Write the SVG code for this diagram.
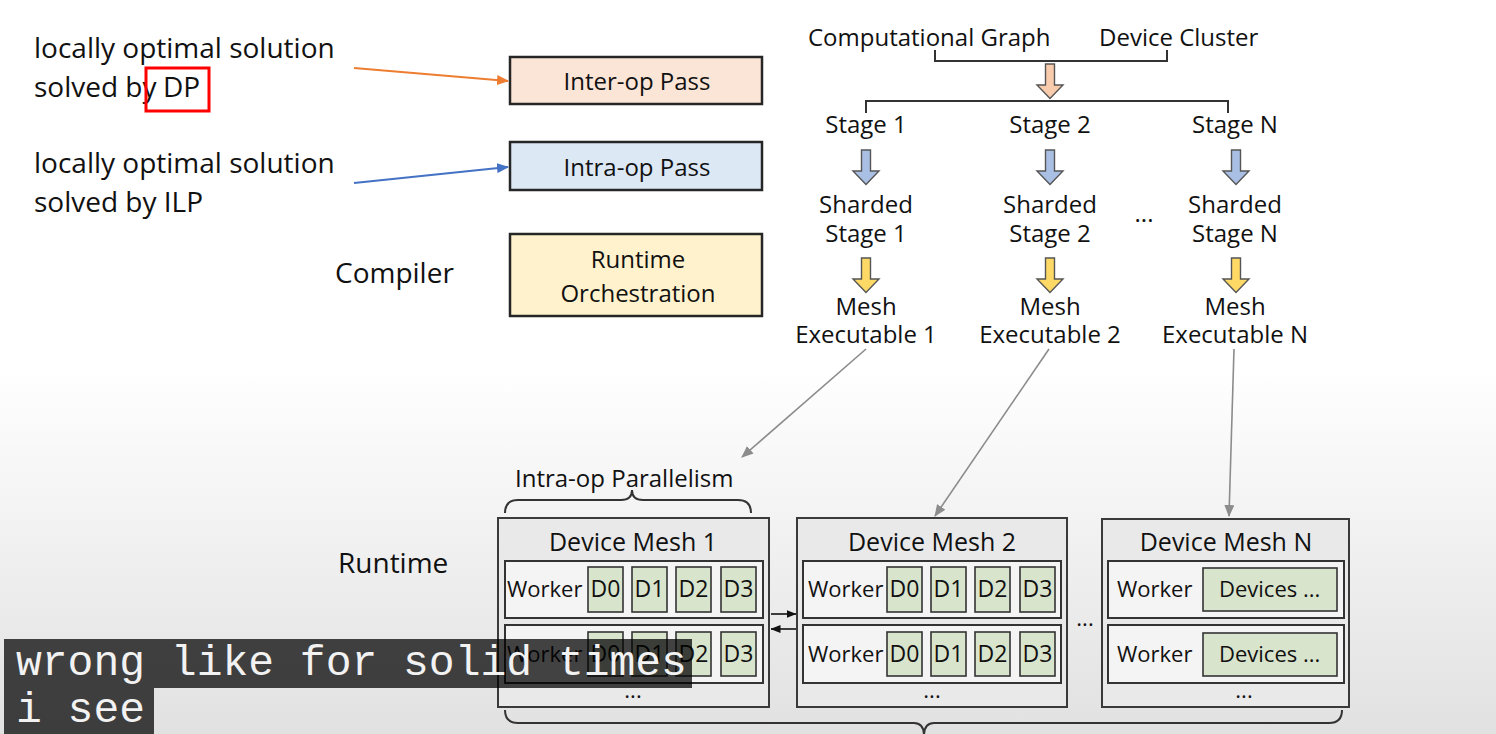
<svg xmlns="http://www.w3.org/2000/svg" xmlns:xlink="http://www.w3.org/1999/xlink" width="1496" height="734" viewBox="0 0 1496 734">
<style>
text{font-family:"Open Sans","Noto Sans","Liberation Sans",sans-serif;fill:#111}
.l28{font-size:28px}
.t24{font-size:24px}
.t25{font-size:25px}
.mid{text-anchor:middle}
.w22{font-size:22px}
.d23{font-size:23px;text-anchor:middle}
.box{stroke:#262626;stroke-width:2.5}
.mesh{fill:#e9e9e9;stroke:#3a3a3a;stroke-width:2}
.row{fill:#f4f4f4;stroke:#333;stroke-width:2}
.dev{fill:#d9e4cd;stroke:#333;stroke-width:1.6}
.br{fill:none;stroke:#333;stroke-width:2}
.gray{stroke:#8c8c8c;stroke-width:1.6;fill:none}
.blk{stroke:#555;stroke-width:1.4}
.sub{font-family:"Liberation Mono","DejaVu Sans Mono",monospace;font-size:43px;fill:#f2f2f2}
</style>
<defs>
<linearGradient id="bg" x1="0" y1="0" x2="0" y2="1">
<stop offset="0" stop-color="#ffffff"/>
<stop offset="0.5" stop-color="#ffffff"/>
<stop offset="1" stop-color="#e1e1e1"/>
</linearGradient>
<path id="blk" d="M-4.5,0 H4.5 V21 H13 L0,34.5 L-13,21 H-4.5 Z"/>
<marker id="mg" viewBox="0 0 12 10" refX="11" refY="5" markerWidth="12" markerHeight="10" markerUnits="userSpaceOnUse" orient="auto">
<path d="M0,0 L12,5 L0,10 Z" fill="#8c8c8c"/>
</marker>
<marker id="mo" viewBox="0 0 12 10" refX="11" refY="5" markerWidth="12" markerHeight="10" markerUnits="userSpaceOnUse" orient="auto">
<path d="M0,0 L12,5 L0,10 Z" fill="#ed7d31"/>
</marker>
<marker id="mb" viewBox="0 0 12 10" refX="11" refY="5" markerWidth="12" markerHeight="10" markerUnits="userSpaceOnUse" orient="auto">
<path d="M0,0 L12,5 L0,10 Z" fill="#4472c4"/>
</marker>
<marker id="mk" viewBox="0 0 10 8" refX="9.5" refY="4" markerWidth="10" markerHeight="8" markerUnits="userSpaceOnUse" orient="auto">
<path d="M0,0 L10,4 L0,8 Z" fill="#111"/>
</marker>
</defs>
<rect x="0" y="0" width="1496" height="734" fill="url(#bg)"/>

<g id="notes">
<text class="l28" x="34" y="58">locally optimal solution</text>
<text class="l28" x="34" y="97">solved by <tspan x="163">DP</tspan></text>
<rect x="146" y="68" width="63" height="43" fill="none" stroke="#ff0000" stroke-width="3"/>
<text class="l28" x="34" y="173">locally optimal solution</text>
<text class="l28" x="34" y="212">solved by ILP</text>
<text class="l28" x="335" y="283">Compiler</text>
<text class="l28" x="338" y="573">Runtime</text>
</g>

<g id="inter-op-pass">
<rect class="box" x="510" y="57" width="252" height="47" fill="#fbe5d6"/>
<text class="t24 mid" x="637" y="90">Inter-op Pass</text>
</g>
<g id="intra-op-pass">
<rect class="box" x="510" y="142" width="252" height="48" fill="#dde8f5"/>
<text class="t24 mid" x="637" y="176">Intra-op Pass</text>
</g>
<g id="runtime-orchestration">
<rect class="box" x="510" y="234" width="252" height="82" fill="#fff2cc"/>
<text class="t24 mid" x="638" y="268">Runtime</text>
<text class="t24 mid" x="638" y="302">Orchestration</text>
</g>

<g id="inputs">
<text class="t24" x="808" y="46">Computational Graph</text>
<text class="t24" x="1099" y="46">Device Cluster</text>
</g>

<g id="stage-1">
<text class="t24 mid" x="866" y="133">Stage 1</text>
<text class="t24 mid" x="866" y="213">Sharded</text>
<text class="t24 mid" x="866" y="242">Stage 1</text>
<text class="t24 mid" x="866" y="315">Mesh</text>
<text class="t24 mid" x="866" y="343">Executable 1</text>
</g>
<g id="stage-2">
<text class="t24 mid" x="1050" y="133">Stage 2</text>
<text class="t24 mid" x="1050" y="213">Sharded</text>
<text class="t24 mid" x="1050" y="242">Stage 2</text>
<text class="t24 mid" x="1050" y="315">Mesh</text>
<text class="t24 mid" x="1050" y="343">Executable 2</text>
</g>
<text class="t24 mid" x="1144" y="222">...</text>
<g id="stage-n">
<text class="t24 mid" x="1235" y="133">Stage N</text>
<text class="t24 mid" x="1235" y="213">Sharded</text>
<text class="t24 mid" x="1235" y="242">Stage N</text>
<text class="t24 mid" x="1235" y="315">Mesh</text>
<text class="t24 mid" x="1235" y="343">Executable N</text>
</g>

<g id="device-mesh-1">
<rect class="mesh" x="498" y="518" width="271" height="189"/>
<text class="t25 mid" x="633" y="551">Device Mesh 1</text>
<rect class="row" x="505" y="561" width="258" height="57"/>
<text class="w22" x="507" y="597">Worker</text>
<rect class="dev" x="588" y="567" width="35" height="45"/>
<rect class="dev" x="632" y="567" width="35" height="45"/>
<rect class="dev" x="676" y="567" width="35" height="45"/>
<rect class="dev" x="721" y="567" width="35" height="45"/>
<text class="d23" x="605.5" y="597">D0</text>
<text class="d23" x="649.5" y="597">D1</text>
<text class="d23" x="693.5" y="597">D2</text>
<text class="d23" x="738.5" y="597">D3</text>
<rect class="row" x="505" y="625" width="258" height="58"/>
<text class="w22" x="507" y="662">Worker</text>
<rect class="dev" x="588" y="632" width="35" height="44"/>
<rect class="dev" x="632" y="632" width="35" height="44"/>
<rect class="dev" x="676" y="632" width="35" height="44"/>
<rect class="dev" x="721" y="632" width="35" height="44"/>
<text class="d23" x="605.5" y="662">D0</text>
<text class="d23" x="649.5" y="662">D1</text>
<text class="d23" x="693.5" y="662">D2</text>
<text class="d23" x="738.5" y="662">D3</text>
<text class="w22 mid" x="633" y="698">...</text>
</g>

<g id="device-mesh-2">
<rect class="mesh" x="797" y="518" width="270" height="189"/>
<text class="t25 mid" x="932" y="551">Device Mesh 2</text>
<rect class="row" x="803" y="561" width="258" height="57"/>
<text class="w22" x="808" y="597">Worker</text>
<rect class="dev" x="887" y="567" width="35" height="45"/>
<rect class="dev" x="931" y="567" width="35" height="45"/>
<rect class="dev" x="975" y="567" width="35" height="45"/>
<rect class="dev" x="1020" y="567" width="35" height="45"/>
<text class="d23" x="904.5" y="597">D0</text>
<text class="d23" x="948.5" y="597">D1</text>
<text class="d23" x="992.5" y="597">D2</text>
<text class="d23" x="1037.5" y="597">D3</text>
<rect class="row" x="803" y="625" width="258" height="58"/>
<text class="w22" x="808" y="662">Worker</text>
<rect class="dev" x="887" y="632" width="35" height="44"/>
<rect class="dev" x="931" y="632" width="35" height="44"/>
<rect class="dev" x="975" y="632" width="35" height="44"/>
<rect class="dev" x="1020" y="632" width="35" height="44"/>
<text class="d23" x="904.5" y="662">D0</text>
<text class="d23" x="948.5" y="662">D1</text>
<text class="d23" x="992.5" y="662">D2</text>
<text class="d23" x="1037.5" y="662">D3</text>
<text class="w22 mid" x="932" y="698">...</text>
</g>

<text class="w22 mid" x="1085" y="626">...</text>

<g id="device-mesh-n">
<rect class="mesh" x="1102" y="519" width="247" height="188"/>
<text class="t25 mid" x="1226" y="551">Device Mesh N</text>
<rect class="row" x="1108" y="561" width="236" height="57"/>
<text class="w22" x="1117" y="597">Worker</text>
<rect class="dev" x="1203" y="568" width="134" height="43"/>
<text class="w22" x="1219" y="597">Devices ...</text>
<rect class="row" x="1108" y="625" width="236" height="58"/>
<text class="w22" x="1117" y="662">Worker</text>
<rect class="dev" x="1203" y="633" width="134" height="43"/>
<text class="w22" x="1219" y="662">Devices ...</text>
<text class="w22 mid" x="1244" y="698">...</text>
</g>

<g id="intra-op-parallelism">
<text class="t24" x="515" y="487">Intra-op Parallelism</text>
<path class="br" d="M505,513 Q505,500 518,500 L621,500 Q632,500 632,490 Q632,500 643,500 L738,500 Q751,500 751,513"/>
</g>

<g id="connectors">
<path class="br" d="M935,50 V61 H1167 V50"/>
<path class="br" d="M866,113 V101 H1228 V113"/>
<use xlink:href="#blk" href="#blk" x="1050" y="64" fill="#f8cbad" class="blk"/>
<use xlink:href="#blk" href="#blk" x="866" y="150" fill="#a9c0e4" class="blk"/>
<use xlink:href="#blk" href="#blk" x="1050" y="150" fill="#a9c0e4" class="blk"/>
<use xlink:href="#blk" href="#blk" x="1236" y="150" fill="#a9c0e4" class="blk"/>
<use xlink:href="#blk" href="#blk" x="866" y="258" fill="#ffd966" class="blk"/>
<use xlink:href="#blk" href="#blk" x="1050" y="258" fill="#ffd966" class="blk"/>
<use xlink:href="#blk" href="#blk" x="1236" y="258" fill="#ffd966" class="blk"/>
<line x1="354" y1="68" x2="508" y2="81" stroke="#ed7d31" stroke-width="2" marker-end="url(#mo)"/>
<line x1="354" y1="183" x2="508" y2="167" stroke="#4472c4" stroke-width="2" marker-end="url(#mb)"/>
<line class="gray" x1="866" y1="349" x2="742" y2="457" marker-end="url(#mg)"/>
<line class="gray" x1="1049" y1="349" x2="935" y2="516" marker-end="url(#mg)"/>
<line class="gray" x1="1234" y1="349" x2="1229" y2="516" marker-end="url(#mg)"/>
<line x1="771" y1="614" x2="796" y2="614" stroke="#111" stroke-width="1.6" marker-end="url(#mk)"/>
<line x1="796" y1="629" x2="771" y2="629" stroke="#111" stroke-width="1.6" marker-end="url(#mk)"/>
<path class="br" d="M505,710 Q505,723 518,723 L914,723 Q924,723 924,736 M924,736 Q924,723 934,723 L1329,723 Q1342,723 1342,710"/>
</g>

<g id="subtitles">
<rect x="4" y="639" width="688" height="49" fill="#000" fill-opacity="0.73"/>
<rect x="4" y="688" width="150" height="46" fill="#000" fill-opacity="0.73"/>
<text class="sub" x="16" y="675">wrong like for solid times</text>
<text class="sub" x="16" y="722">i see</text>
</g>
</svg>
